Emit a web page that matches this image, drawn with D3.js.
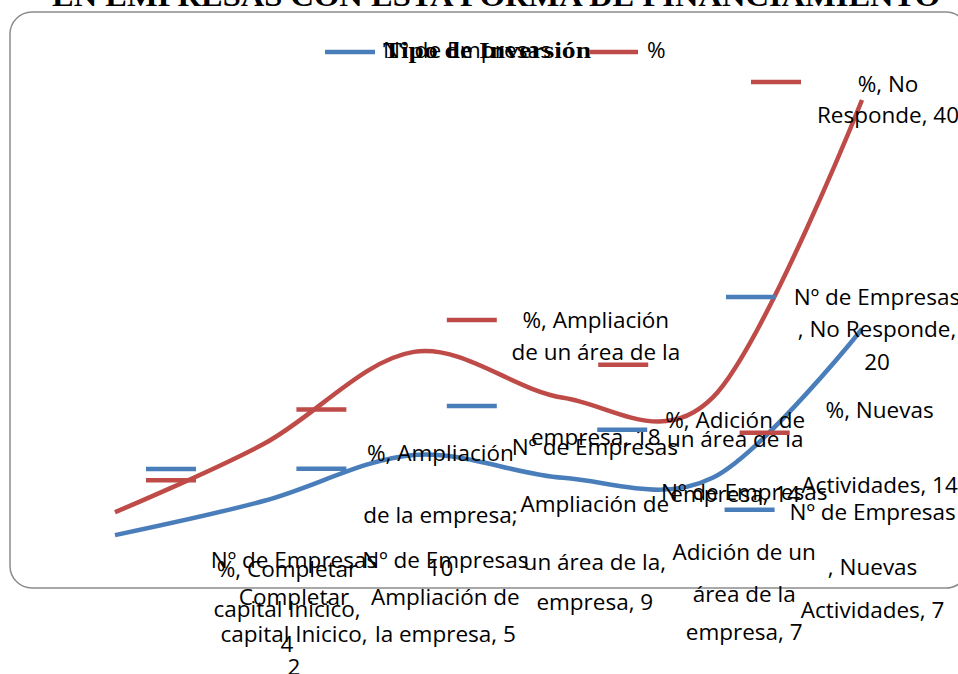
<!DOCTYPE html>
<html>
<head>
<meta charset="UTF-8">
<title>Tipo de Inversión</title>
<script src="https://d3js.org/d3.v7.min.js"></script>
<style>
  body { margin: 0; background: #fff; }
  .lbl { font-family: "Open Sans", sans-serif; font-size: 22.5px; fill: #000; }
  .serif { font-family: "Liberation Serif", serif; font-weight: bold; fill: #000; }
</style>
</head>
<body>
<svg width="958" height="674"></svg>
<script>
const categories = ["Completar capital Inicico", "Ampliación de la empresa", "Ampliación de un área de la empresa",
  "Adición  de un área de la empresa", "Nuevas Actividades", "No Responde"];
const empresas = [2, 5, 9, 7, 7, 20];
const porcentaje = [4, 10, 18, 14, 14, 40];
const seriesNames = ["Nº de Empresas", "%"];
const colors = ["#4A7EBB", "#BE4B48"];
const titleText = "EN EMPRESAS CON ESTA FORMA DE FINANCIAMIENTO";
const legendTitle = "Tipo de Inversión";

// data label layout (offsets from the point, Excel put them all over the place)
const labels = [
  { s: 1, i: 0, dx: 172, dy: [65, 105, 140], kx: 31, ky: -32, lines: ["%, Completar", "capital Inicico,", "{v}"] },
  { s: 0, i: 0, dx: 179, dy: [33, 70, 107, 140], kx: 31, ky: -66, lines: ["Nº de Empresas", "Completar", "capital Inicico,", "{v}"] },
  { s: 1, i: 1, dx: 176, dy: [17, 79, 132], kx: 32, ky: -34, lines: ["%, Ampliación", "de la empresa;", "{v}"] },
  { s: 0, i: 1, dx: 181, dy: [67, 104, 141], kx: 32, ky: -32, lines: ["Nº de Empresas", "Ampliación de", "la empresa, {v}"] },
  { s: 1, i: 2, dx: 182, dy: [-24, 8, 93], kx: 33, ky: -32, lines: ["%, Ampliación", "de un área de la", "empresa, {v}"] },
  { s: 0, i: 2, dx: 181, dy: [0, 57, 115, 155], kx: 33, ky: -49, lines: ["Nº de Empresas", "Ampliación de", "un área de la,", "empresa, {v}"] },
  { s: 1, i: 3, dx: 172, dy: [30, 49, 104], kx: 35, ky: -33, lines: ["%, Adición  de", "un área de la", "empresa, {v}"] },
  { s: 0, i: 3, dx: 181, dy: [22, 82, 124, 162], kx: 34, ky: -48, lines: ["Nº de Empresas", "Adición  de un", "área de la", "empresa, {v}"] },
  { s: 1, i: 4, dx: 167, dy: [20, 95], kx: 27, ky: 35, lines: ["%, Nuevas", "Actividades, {v}"] },
  { s: 0, i: 4, dx: 160, dy: [42, 97, 140], kx: 12, ky: 32, lines: ["Nº de Empresas", ", Nuevas", "Actividades, {v}"] },
  { s: 1, i: 5, dx: 26, dy: [-8, 23], kx: -111, ky: -18, lines: ["%, No", "Responde, {v}"] },
  { s: 0, i: 5, dx: 15, dy: [-24, 8, 41], kx: -136, ky: -32, lines: ["Nº de Empresas", ", No Responde,", "{v}"] }
];

const svg = d3.select("svg");
const series = [empresas, porcentaje];

const x = d3.scalePoint().domain(categories).range([115, 862]);
const y = d3.scaleLinear().domain([0, 40]).range([558, 100]);

// chart frame
svg.append("rect")
  .attr("x", 10).attr("y", 12).attr("width", 958).attr("height", 576)
  .attr("rx", 22).attr("ry", 22)
  .attr("fill", "none").attr("stroke", "#8c8c8c").attr("stroke-width", 1.5);

// title, mostly cut off by the top of the page
svg.append("text").attr("class", "serif")
  .attr("x", 52).attr("y", 6)
  .attr("font-size", 30)
  .attr("textLength", 888).attr("lengthAdjust", "spacingAndGlyphs")
  .text(titleText);

// legend
const legend = svg.append("g");
legend.append("line").attr("x1", 325).attr("x2", 375).attr("y1", 52).attr("y2", 52)
  .attr("stroke", colors[0]).attr("stroke-width", 4.5);
legend.append("text").attr("class", "lbl")
  .attr("x", 383).attr("y", 58).attr("font-size", 22)
  .attr("textLength", 168).attr("lengthAdjust", "spacingAndGlyphs")
  .text(seriesNames[0]);
legend.append("text").attr("class", "serif")
  .attr("x", 383).attr("y", 58).attr("font-size", 24)
  .attr("textLength", 208).attr("lengthAdjust", "spacingAndGlyphs")
  .text(legendTitle);
legend.append("line").attr("x1", 589).attr("x2", 638).attr("y1", 52).attr("y2", 52)
  .attr("stroke", colors[1]).attr("stroke-width", 4.5);
legend.append("text").attr("class", "lbl")
  .attr("x", 647).attr("y", 58).attr("font-size", 22)
  .text(seriesNames[1]);

// smoothed lines
const line = d3.line()
  .x((d, i) => x(categories[i]))
  .y(d => y(d))
  .curve(d3.curveCardinal.tension(0));

svg.selectAll(".series")
  .data(series)
  .enter().append("path")
  .attr("class", "series")
  .attr("d", d => line(d))
  .attr("fill", "none")
  .attr("stroke", (d, i) => colors[i])
  .attr("stroke-width", 4.5);

// data labels with their legend keys
const lab = svg.selectAll(".dlabel")
  .data(labels)
  .enter().append("g")
  .attr("class", "dlabel")
  .attr("transform", d => `translate(${x(categories[d.i])},${y(series[d.s][d.i])})`);

lab.append("line")
  .attr("x1", d => d.kx).attr("x2", d => d.kx + 50)
  .attr("y1", d => d.ky).attr("y2", d => d.ky)
  .attr("stroke", d => colors[d.s]).attr("stroke-width", 4.5);

lab.each(function(d) {
  const g = d3.select(this);
  d.lines.forEach((t, k) => {
    g.append("text").attr("class", "lbl")
      .attr("x", d.dx).attr("y", d.dy[k])
      .attr("text-anchor", "middle")
      .text(t.replace("{v}", series[d.s][d.i]));
  });
});
</script>
</body>
</html>
